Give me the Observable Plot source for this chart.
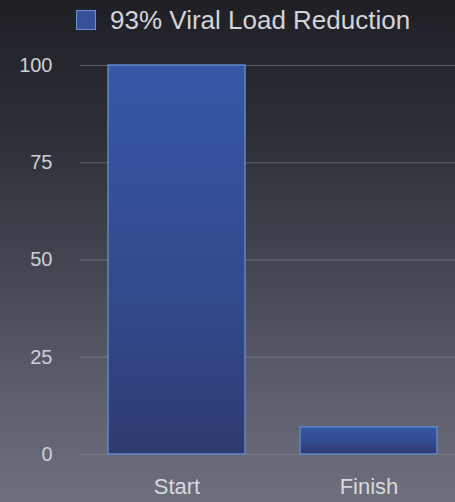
<!DOCTYPE html>
<html><head><meta charset="utf-8">
<script src="https://cdn.jsdelivr.net/npm/d3@7"></script>
<script src="https://cdn.jsdelivr.net/npm/@observablehq/plot@0.6"></script>
<style>
html,body{margin:0;padding:0;width:455px;height:502px;overflow:hidden;}
body{background:linear-gradient(to bottom,#1f2026 0%,#2c2e36 25%,#454853 55%,#5e606d 80%,#6d6f7c 100%);font-family:"Liberation Sans",Arial,sans-serif;}
#legend{height:40px;position:relative;}
#legend .sw{position:absolute;left:76px;top:10px;width:20px;height:20px;background:#37509a;border:1.5px solid #6f8fd0;box-sizing:border-box;}
#legend .tx{position:absolute;left:110px;top:4px;font-size:26px;color:#d4d4d8;line-height:32px;}
svg{display:block;overflow:visible;}
</style></head>
<body>
<div id="legend"><div class="sw"></div><div class="tx">93% Viral Load Reduction</div></div>
<div id="chart"></div>
<script>
const categories = ["Start", "Finish"];
const values = [100, 7];
const yTicks = [0, 25, 50, 75, 100];
const seriesName = "93% Viral Load Reduction";

const data = categories.map((c, i) => ({category: c, value: values[i]}));

const plot = Plot.plot({
  width: 455,
  height: 462,
  marginTop: 25,
  marginBottom: 48,
  marginLeft: 80,
  marginRight: 0,
  style: {background: "transparent", color: "#d0d0d4", fontFamily: "Liberation Sans, Arial, sans-serif"},
  x: {domain: categories, range: [108, 438], paddingInner: 0.286, paddingOuter: 0, label: null},
  y: {domain: [0, 100], ticks: yTicks, label: null},
  marks: [
    Plot.ruleY(yTicks, {stroke: "#8a8d98", strokeOpacity: 0.55, strokeWidth: 1.2}),
    Plot.barY(data, {x: "category", y: "value", fill: "url(#barGrad)", stroke: "#6384c8", strokeWidth: 1.5, inset: 0}),
    Plot.axisY({ticks: yTicks, tickSize: 0, tickPadding: 28, fontSize: 20, fill: "#cfcfd3"}),
    Plot.axisX({tickSize: 0, tickPadding: 24, fontSize: 22, fill: "#d8d8dc"})
  ]
});

const svg = d3.select(plot);
const defs = svg.insert("defs", ":first-child");
const g = defs.append("linearGradient").attr("id", "barGrad").attr("x1", 0).attr("y1", 0).attr("x2", 0).attr("y2", 1);
g.append("stop").attr("offset", "0%").attr("stop-color", "#3658a6");
g.append("stop").attr("offset", "60%").attr("stop-color", "#32498c");
g.append("stop").attr("offset", "100%").attr("stop-color", "#2e3b70");
document.getElementById("chart").appendChild(plot);
</script>
</body></html>
